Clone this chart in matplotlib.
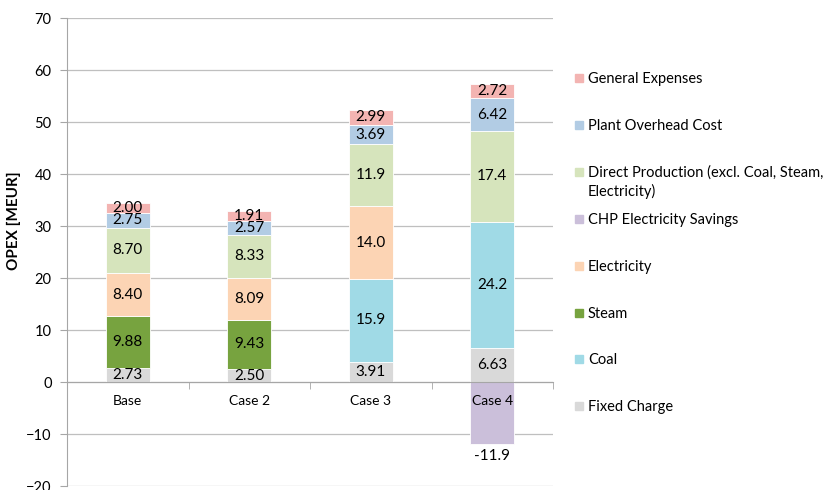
import matplotlib
matplotlib.use('Agg')
import matplotlib.pyplot as plt
import numpy as np
from matplotlib.patches import Rectangle

plt.rcParams['font.family'] = ['Lato', 'DejaVu Sans']

cases = ['Base', 'Case 2', 'Case 3', 'Case 4']

# stacked from bottom to top
series = ['Fixed Charge', 'Coal', 'Steam', 'Electricity',
          'CHP Electricity Savings',
          'Direct Production (excl. Coal, Steam,\nElectricity)',
          'Plant Overhead Cost', 'General Expenses']
fixed_charge = [2.73, 2.50, 3.91, 6.63]
coal = [0, 0, 15.9, 24.2]
steam = [9.88, 9.43, 0, 0]
electricity = [8.40, 8.09, 14.0, 0]
chp_savings = [0, 0, 0, -11.9]
direct_prod = [8.70, 8.33, 11.9, 17.4]
overhead = [2.75, 2.57, 3.69, 6.42]
general = [2.00, 1.91, 2.99, 2.72]
values = [fixed_charge, coal, steam, electricity, chp_savings,
          direct_prod, overhead, general]
colors = ['#D9D9D9', '#A0DAE6', '#77A33F', '#FCD4B4', '#CBBFDA',
          '#D6E4BC', '#B2CCE4', '#F3B4B2']


def fmt(v):
    if v == 0:
        return ''
    return f'{v:.1f}' if abs(v) >= 10 else f'{v:.2f}'


def main():
    fig = plt.figure(figsize=(8.27, 4.90), dpi=100)
    ax = fig.add_axes([67 / 827, 4 / 490, 486 / 827, 468 / 490])
    ax.set_axisbelow(False)

    x = np.arange(len(cases))
    pos_bottom = np.zeros(len(cases))
    neg_bottom = np.zeros(len(cases))
    for name, vals, col in zip(series, values, colors):
        vals = np.array(vals, dtype=float)
        bottom = np.where(vals >= 0, pos_bottom, neg_bottom)
        bars = ax.bar(x, vals, 0.36, bottom=bottom, color=col,
                      edgecolor='white', linewidth=0.6, zorder=2)
        labels = [fmt(v) for v in vals]
        if np.all(vals <= 0):
            ax.bar_label(bars, labels=labels, label_type='edge', padding=4,
                         fontsize=11, zorder=3)
        else:
            ax.bar_label(bars, labels=labels, label_type='center',
                         fontsize=11, zorder=3)
        pos_bottom += np.where(vals >= 0, vals, 0)
        neg_bottom += np.where(vals < 0, vals, 0)

    ax.set_xlim(-0.5, len(cases) - 0.5)
    ax.set_ylim(-20, 70)
    ax.set_yticks(np.arange(-20, 71, 10))
    for t in ax.get_yticks():
        ax.axhline(t, color='#BFBFBF', lw=0.9, zorder=0)

    ax.set_xticks(x)
    ax.set_xticklabels(cases, fontsize=10.5)
    ax.set_xticks(np.arange(len(cases) + 1) - 0.5, minor=True)
    ax.tick_params(axis='x', which='major', length=0, pad=9)
    ax.tick_params(axis='x', which='minor', length=5, color='#A6A6A6')
    ax.tick_params(axis='y', length=5, color='#A6A6A6', labelsize=10.5,
                   pad=6)

    ax.spines['bottom'].set_position(('data', 0))
    ax.spines['bottom'].set_color('#A6A6A6')
    ax.spines['left'].set_color('#A6A6A6')
    ax.spines['top'].set_visible(False)
    ax.spines['right'].set_visible(False)

    ax.set_ylabel('OPEX [MEUR]', fontsize=11, fontweight='bold')
    ax.yaxis.set_label_coords(-0.095, 0.566)

    # legend, drawn in reverse stacking order
    step = 46.9
    for i, (name, col) in enumerate(zip(series[::-1], colors[::-1])):
        yc = 78 + i * step
        fig.patches.append(Rectangle((575 / 827, 1 - (yc + 4) / 490),
                                     8 / 827, 8 / 490, color=col,
                                     transform=fig.transFigure,
                                     figure=fig))
        fig.text(588 / 827, 1 - (yc - 6) / 490, name, fontsize=10.5,
                 va='top', ha='left', linespacing=1.3)

    fig.savefig('out.png', dpi=100)


if __name__ == '__main__':
    main()
